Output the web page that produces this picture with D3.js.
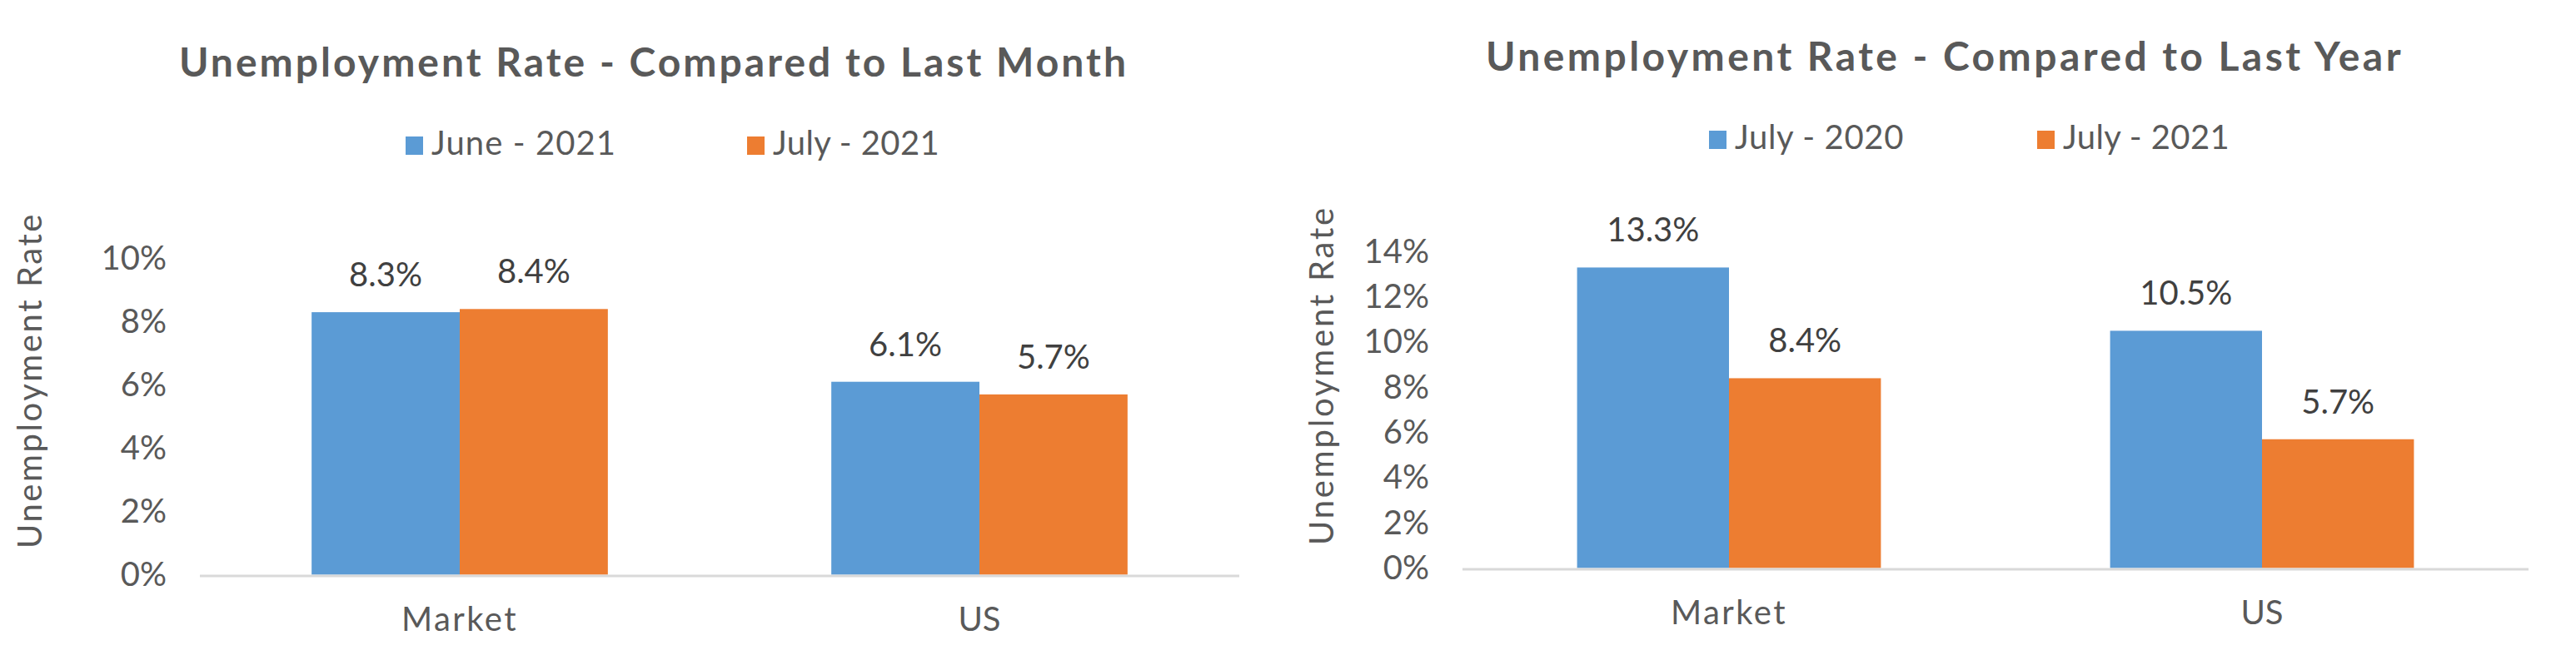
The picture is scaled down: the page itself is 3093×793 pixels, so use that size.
<!DOCTYPE html>
<html>
<head>
<meta charset="utf-8">
<script src="https://cdn.jsdelivr.net/npm/d3@7/dist/d3.min.js"></script>
<style>
  html, body { margin: 0; padding: 0; background: #ffffff; }
  svg { display: block; }
  text { font-family: "Century Gothic", Lato, "DejaVu Sans", sans-serif; }
</style>
</head>
<body>
<svg id="chart" width="3093" height="793"></svg>
<script>
// ---- data ----
const categories = ["Market", "US"];

const monthTitle = "Unemployment Rate - Compared to Last Month";
const monthSeries = ["June - 2021", "July - 2021"];
const monthJune2021 = [8.3, 6.1];
const monthJuly2021 = [8.4, 5.7];
const monthTicks = [0, 2, 4, 6, 8, 10];

const yearTitle = "Unemployment Rate - Compared to Last Year";
const yearSeries = ["July - 2020", "July - 2021"];
const yearJuly2020 = [13.3, 10.5];
const yearJuly2021 = [8.4, 5.7];
const yearTicks = [0, 2, 4, 6, 8, 10, 12, 14];

const yAxisLabel = "Unemployment Rate";
const seriesColors = ["#5B9BD5", "#ED7D31"];

// ---- drawing ----
const svg = d3.select("#chart");
svg.append("rect").attr("width", 3093).attr("height", 793).attr("fill", "#fff");

// widen text by letter-spacing so it spans the target width of the original font
function fitWidth(sel, target) {
  sel.each(function () {
    const node = this;
    const w = node.getComputedTextLength();
    const n = node.textContent.length;
    if (n > 1 && w > 0) {
      const ls = (target - w) / n;
      d3.select(node).attr("letter-spacing", ls.toFixed(2));
    }
  });
}

function drawChart(cfg) {
  const g = svg.append("g");
  const textColor = "#595959";

  // title
  const t = g.append("text")
    .attr("x", cfg.titleX).attr("y", cfg.titleY)
    .attr("text-anchor", "middle")
    .attr("font-size", 48).attr("font-weight", "bold")
    .attr("fill", textColor)
    .text(cfg.title);
  fitWidth(t, cfg.titleW);

  // legend
  cfg.series.forEach((s, i) => {
    const lx = cfg.legendX[i];
    g.append("rect")
      .attr("x", lx).attr("y", cfg.legendY - 22)
      .attr("width", 21).attr("height", 22)
      .attr("fill", seriesColors[i]);
    const lt = g.append("text")
      .attr("x", lx + 31).attr("y", cfg.legendY)
      .attr("font-size", 40)
      .attr("fill", textColor)
      .text(s);
    fitWidth(lt, cfg.legendW[i]);
  });

  const y = d3.scaleLinear().domain(cfg.yDomain).range([cfg.y0, cfg.yTop]);
  const x = d3.scaleBand().domain(categories).range([cfg.x0, cfg.x1])
    .paddingInner(0.43).paddingOuter(0.215);
  const xs = d3.scaleBand().domain(cfg.series).range([0, x.bandwidth()]);

  // y axis (labels only)
  const yAxis = d3.axisLeft(y).tickValues(cfg.ticks)
    .tickFormat(d => d + "%").tickSize(0).tickPadding(cfg.tickPad);
  const ya = g.append("g").attr("transform", `translate(${cfg.x0},0)`).call(yAxis);
  ya.select(".domain").remove();
  ya.selectAll("text")
    .attr("font-size", 40).attr("fill", textColor)
    .attr("font-family", '"Century Gothic", Lato, "DejaVu Sans", sans-serif');

  // y axis title
  const yl = g.append("text")
    .attr("transform", `translate(${cfg.yLabelX},${cfg.yLabelY}) rotate(-90)`)
    .attr("text-anchor", "middle")
    .attr("font-size", 40)
    .attr("fill", textColor)
    .text(yAxisLabel);
  fitWidth(yl, cfg.yLabelW);

  // bars
  const rows = categories.map((c, ci) => ({
    cat: c,
    vals: cfg.values.map((arr, si) => ({ s: cfg.series[si], si, v: arr[ci] }))
  }));
  const cg = g.selectAll(".cat").data(rows).enter().append("g")
    .attr("transform", d => `translate(${x(d.cat)},0)`);
  cg.selectAll("rect").data(d => d.vals).enter().append("rect")
    .attr("x", d => xs(d.s))
    .attr("y", d => y(d.v))
    .attr("width", xs.bandwidth())
    .attr("height", d => y(0) - y(d.v))
    .attr("fill", d => seriesColors[d.si]);
  cg.selectAll("text").data(d => d.vals).enter().append("text")
    .attr("x", d => xs(d.s) + xs.bandwidth() / 2)
    .attr("y", d => y(d.v) - 31)
    .attr("text-anchor", "middle")
    .attr("font-size", 40)
    .attr("fill", "#404040")
    .text(d => d.v.toFixed(1) + "%");

  // x axis line
  g.append("line")
    .attr("x1", cfg.x0).attr("x2", cfg.x1)
    .attr("y1", y(0) + 1.5).attr("y2", y(0) + 1.5)
    .attr("stroke", "#D9D9D9").attr("stroke-width", 3);

  // category labels
  const xAxis = d3.axisBottom(x).tickSize(0).tickPadding(0);
  const xa = g.append("g").attr("transform", `translate(0,${cfg.catY})`).call(xAxis);
  xa.select(".domain").remove();
  xa.selectAll("text")
    .attr("dy", 0).attr("y", 0)
    .attr("font-size", 40).attr("fill", textColor)
    .attr("font-family", '"Century Gothic", Lato, "DejaVu Sans", sans-serif');
  fitWidth(xa.selectAll("text").filter(d => d === "Market"), 140);
}

drawChart({
  title: monthTitle, titleX: 785, titleY: 92, titleW: 1140,
  series: monthSeries, legendX: [487, 897], legendY: 186, legendW: [222, 200],
  values: [monthJune2021, monthJuly2021],
  yDomain: [0, 10], y0: 690.5, yTop: 310.5, ticks: monthTicks,
  x0: 240, x1: 1488, tickPad: 40,
  yLabelX: 50, yLabelY: 457, yLabelW: 404,
  catY: 758
});

drawChart({
  title: yearTitle, titleX: 2335, titleY: 85, titleW: 1102,
  series: yearSeries, legendX: [2052, 2446], legendY: 179, legendW: [203, 200],
  values: [yearJuly2020, yearJuly2021],
  yDomain: [0, 14], y0: 682.5, yTop: 682.5 - 14 * 27.15, ticks: yearTicks,
  x0: 1756, x1: 3036, tickPad: 40,
  yLabelX: 1601, yLabelY: 451, yLabelW: 408,
  catY: 750
});
</script>
</body>
</html>
